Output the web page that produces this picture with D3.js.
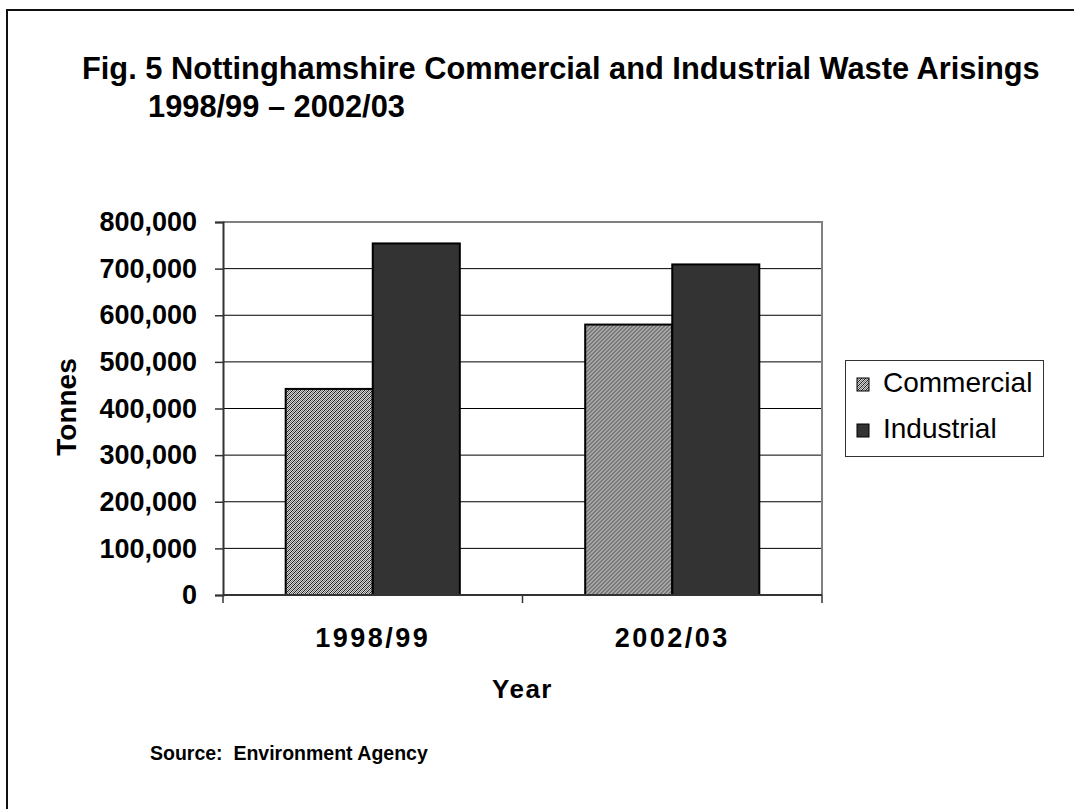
<!DOCTYPE html>
<html>
<head>
<meta charset="utf-8">
<script src="https://cdn.jsdelivr.net/npm/d3@7"></script>
<style>
  html, body { margin: 0; padding: 0; background: #fff; }
  svg { display: block; font-family: "Liberation Sans", Arial, sans-serif; }
  text { white-space: pre; }
</style>
</head>
<body>
<svg id="chart" width="1074" height="809"></svg>
<script>
// Waste arisings by year (tonnes)
const years = ["1998/99", "2002/03"];
const seriesNames = ["Commercial", "Industrial"];
const commercial = [442000, 580000];
const industrial = [754000, 709000];
const yTicks = [0, 100000, 200000, 300000, 400000, 500000, 600000, 700000, 800000];

const titleLines = ["Fig. 5 Nottinghamshire Commercial and Industrial Waste Arisings", "1998/99 \u2013 2002/03"];
const yLabel = "Tonnes";
const xLabel = "Year";
const sourceText = "Source:  Environment Agency";

const svg = d3.select("#chart");

// hatched fill for the commercial bars
const defs = svg.append("defs");
const pat = defs.append("pattern")
  .attr("id", "hatch")
  .attr("patternUnits", "userSpaceOnUse")
  .attr("width", 4).attr("height", 4);
pat.append("rect").attr("width", 4).attr("height", 4).attr("fill", "#d4d4d4");
[[0,3],[1,2],[2,1],[3,0]].forEach(([x,y]) => pat.append("rect").attr("x", x).attr("y", y).attr("width", 1).attr("height", 1).attr("fill", "#1e1e1e"));
[[0,1],[1,0],[2,3],[3,2]].forEach(([x,y]) => pat.append("rect").attr("x", x).attr("y", y).attr("width", 1).attr("height", 1).attr("fill", "#7a7a7a"));

const fills = { Commercial: "url(#hatch)", Industrial: "#333333" };

// outer frame (top and left edges)
svg.append("path")
  .attr("d", "M7,809 V10 H1074")
  .attr("fill", "none").attr("stroke", "#111").attr("stroke-width", 2);

// title
const title = svg.append("text")
  .attr("font-weight", "bold").attr("font-size", 30.8).attr("fill", "#000");
title.append("tspan").attr("x", 82).attr("y", 79).text(titleLines[0]);
title.append("tspan").attr("x", 148).attr("y", 117).text(titleLines[1]);

// plot area
const plot = { left: 223, right: 822, top: 222, bottom: 595 };

const y = d3.scaleLinear().domain([0, 800000]).range([plot.bottom, plot.top]);
const x0 = d3.scaleBand().domain(years).range([plot.left, plot.right]).padding(0);
const x1 = d3.scaleBand().domain(seriesNames).range([0, x0.bandwidth()]).paddingInner(0).paddingOuter(0.72);

// gridlines
svg.append("g").selectAll("line")
  .data(yTicks.filter(t => t > 0 && t < 800000))
  .join("line")
  .attr("x1", plot.left).attr("x2", plot.right)
  .attr("y1", d => y(d)).attr("y2", d => y(d))
  .attr("stroke", "#000").attr("stroke-width", 1);

// plot area border (top & right)
svg.append("path")
  .attr("d", `M${plot.left},${plot.top} H${plot.right} V${plot.bottom}`)
  .attr("fill", "none").attr("stroke", "#808080").attr("stroke-width", 2);

// bars
const rows = years.map((yr, i) => ({ year: yr, values: [
  { key: "Commercial", value: commercial[i] },
  { key: "Industrial", value: industrial[i] }
]}));

svg.append("g").selectAll("g")
  .data(rows)
  .join("g")
  .attr("transform", d => `translate(${x0(d.year)},0)`)
  .selectAll("rect")
  .data(d => d.values)
  .join("rect")
  .attr("x", d => x1(d.key))
  .attr("y", d => y(d.value))
  .attr("width", x1.bandwidth())
  .attr("height", d => y(0) - y(d.value))
  .attr("fill", d => fills[d.key])
  .attr("stroke", "#000").attr("stroke-width", 2);

// y axis
const yAxis = d3.axisLeft(y)
  .tickValues(yTicks)
  .tickSize(8)
  .tickPadding(18)
  .tickFormat(d3.format(","));
const gy = svg.append("g").attr("transform", `translate(${plot.left},0)`).call(yAxis);
gy.select(".domain").attr("stroke", "#333").attr("stroke-width", 2);
gy.selectAll(".tick line").attr("stroke", "#333").attr("stroke-width", 1.5);
gy.selectAll(".tick text")
  .attr("font-family", "Liberation Sans, Arial, sans-serif")
  .attr("font-size", 27).attr("font-weight", "bold").attr("fill", "#000");

// x axis: tick marks at category boundaries
const xAxisG = svg.append("g");
xAxisG.append("line")
  .attr("x1", plot.left).attr("x2", plot.right)
  .attr("y1", plot.bottom).attr("y2", plot.bottom)
  .attr("stroke", "#333").attr("stroke-width", 2);
const boundaries = [plot.left].concat(years.map(d => x0(d) + x0.bandwidth()));
xAxisG.selectAll("line.tk")
  .data(boundaries)
  .join("line").attr("class", "tk")
  .attr("x1", d => d).attr("x2", d => d)
  .attr("y1", plot.bottom).attr("y2", plot.bottom + 8)
  .attr("stroke", "#333").attr("stroke-width", 1.5);
xAxisG.selectAll("text")
  .data(years)
  .join("text")
  .attr("x", d => x0(d) + x0.bandwidth() / 2)
  .attr("y", 647)
  .attr("text-anchor", "middle")
  .attr("font-size", 27).attr("font-weight", "bold").attr("letter-spacing", 2.5).attr("fill", "#000")
  .text(d => d);

// axis titles
svg.append("text")
  .attr("x", (plot.left + plot.right) / 2).attr("y", 698)
  .attr("text-anchor", "middle")
  .attr("font-size", 26).attr("font-weight", "bold").attr("letter-spacing", 1.5)
  .text(xLabel);

svg.append("text")
  .attr("transform", "translate(76,407) rotate(-90)")
  .attr("text-anchor", "middle")
  .attr("font-size", 28).attr("font-weight", "bold")
  .text(yLabel);

// legend
const legend = svg.append("g");
legend.append("rect")
  .attr("x", 845.5).attr("y", 360.5).attr("width", 198).attr("height", 96)
  .attr("fill", "#fff").attr("stroke", "#333").attr("stroke-width", 1);
seriesNames.forEach((name, i) => {
  const yy = 378 + i * 46;
  legend.append("rect")
    .attr("x", 857).attr("y", yy).attr("width", 12).attr("height", 13)
    .attr("fill", fills[name]).attr("stroke", "#000").attr("stroke-width", 1);
  legend.append("text")
    .attr("x", 883).attr("y", yy + 14)
    .attr("font-size", 28).attr("fill", "#000")
    .text(name);
});

// source note
svg.append("text")
  .attr("x", 150).attr("y", 760)
  .attr("font-size", 19.5).attr("font-weight", "bold")
  .text(sourceText);
</script>
</body>
</html>
